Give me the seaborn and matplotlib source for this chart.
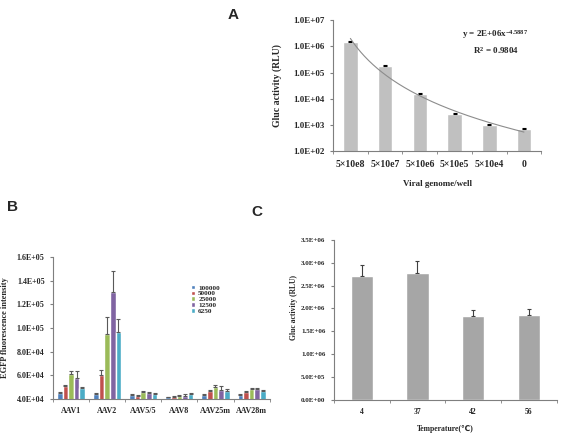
import numpy as np
import pandas as pd
import matplotlib
matplotlib.use("Agg")
import matplotlib.pyplot as plt
from matplotlib.ticker import FuncFormatter, FixedLocator
import seaborn as sns

# panel A: luciferase vs viral genomes (log scale)
a_labels = ["5×10e8", "5×10e7", "5×10e6", "5×10e5", "5×10e4", "0"]
a_values = [1.4e6, 1.8e5, 1.5e4, 2.7e3, 1.0e3, 7.0e2]
a_errors = [1.5e5, 8e3, 1.5e3, 1.0e2, 8e1, 6e1]
a_fit_coef = 2e6
a_fit_exp = -4.5887

# panel B: EGFP fluorescence by serotype and dose
b_groups = ["AAV1", "AAV2", "AAV5/5", "AAV8", "AAV25m", "AAV28m"]
b_doses = ["100000", "50000", "25000", "12500", "6250"]
b_100000 = [45000, 44000, 43000, 41400, 43500, 43600]
b_50000 = [51000, 60500, 42500, 42000, 47000, 46000]
b_25000 = [61000, 95000, 45600, 42200, 50200, 48500]
b_12500 = [58000, 130000, 45000, 42500, 48000, 48500]
b_6250 = [49000, 97000, 44000, 44000, 46500, 47000]
b_100000_err = [600, 1000, 800, 500, 800, 600]
b_50000_err = [500, 4000, 700, 600, 1000, 700]
b_25000_err = [2500, 14000, 1500, 800, 1800, 800]
b_12500_err = [5500, 18000, 1200, 1500, 3000, 800]
b_6250_err = [1200, 11000, 800, 700, 2000, 700]

# panel C: temperature stability
c_temps = ["4", "37", "42", "56"]
c_values = [2.71e6, 2.77e6, 1.84e6, 1.86e6]
c_errors = [2.5e5, 2.6e5, 1.2e5, 1.3e5]

sns.set_style("ticks")
plt.rcParams["font.family"] = ["Liberation Serif", "DejaVu Sans"]
plt.rcParams["font.weight"] = "bold"
plt.rcParams["mathtext.fontset"] = "custom"
plt.rcParams["mathtext.rm"] = "Liberation Serif:bold"
plt.rcParams["mathtext.it"] = "Liberation Serif:bold"
plt.rcParams["mathtext.bf"] = "Liberation Serif:bold"

spine_col = "#7f7f7f"


def style_axes(ax, n, fs_x, fs_y):
    sns.despine(ax=ax)
    for s in ["left", "bottom"]:
        ax.spines[s].set_color(spine_col)
        ax.spines[s].set_linewidth(0.8)
    ax.set_xlim(-0.5, n - 0.5)
    ax.xaxis.set_minor_locator(FixedLocator(np.arange(-0.5, n, 1.0)))
    ax.tick_params(axis="x", which="major", length=0, labelsize=fs_x, pad=6)
    ax.tick_params(axis="x", which="minor", length=2.5, color=spine_col)
    ax.tick_params(axis="y", length=2.5, color=spine_col, labelsize=fs_y)
    for lab in ax.get_xticklabels() + ax.get_yticklabels():
        lab.set_fontweight("bold")


def add_errors(ax, bars, errs, color):
    xs = [b.get_x() + b.get_width() / 2 for b in bars]
    ys = [b.get_height() for b in bars]
    ax.errorbar(xs, ys, yerr=[np.zeros(len(errs)), errs], fmt="none",
                ecolor=color, elinewidth=0.8, capsize=1.5, capthick=0.8)


fig = plt.figure(figsize=(5.63, 4.37), dpi=100)

# ---- panel A ----
ax_a = fig.add_axes([0.5915, 0.654, 0.37, 0.30])
df_a = pd.DataFrame({"dose": a_labels, "rlu": a_values})
ax_a.set_yscale("log")
sns.barplot(data=df_a, x="dose", y="rlu", color="#c0c0c0", width=0.42,
            saturation=1, ax=ax_a)
add_errors(ax_a, ax_a.containers[0], a_errors, "black")
xs_fit = np.linspace(1, len(a_values), 200)
ax_a.plot(xs_fit - 1, a_fit_coef * xs_fit ** a_fit_exp, color="#8c8c8c", lw=0.8)
ax_a.set_ylim(1e2, 1e7)
ax_a.yaxis.set_major_locator(FixedLocator([10.0 ** k for k in range(2, 8)]))
ax_a.yaxis.set_minor_locator(FixedLocator([]))
ax_a.yaxis.set_major_formatter(FuncFormatter(lambda v, p: f"{v:.1E}"))
style_axes(ax_a, len(a_labels), 7, 6.5)
ax_a.set_xlabel("Viral genome/well", fontsize=6.5, fontweight="bold", labelpad=8)
ax_a.set_ylabel("Gluc activity (RLU)", fontsize=7, fontweight="bold", labelpad=8)
ax_a.text(0.62, 0.87, r"y = 2E+06x$^{-4.5887}$", transform=ax_a.transAxes,
          fontsize=6.5, fontweight="bold")
ax_a.text(0.67, 0.74, r"R$^{2}$ = 0.9804", transform=ax_a.transAxes,
          fontsize=6.5, fontweight="bold")
fig.text(0.405, 0.965, "A", fontsize=11, fontweight="bold",
         family="Liberation Sans", va="center")

# ---- panel B ----
ax_b = fig.add_axes([0.094, 0.087, 0.385, 0.325])
b_series = [b_100000, b_50000, b_25000, b_12500, b_6250]
b_errs = [b_100000_err, b_50000_err, b_25000_err, b_12500_err, b_6250_err]
df_b = pd.DataFrame({
    "group": np.tile(b_groups, len(b_doses)),
    "dose": np.repeat(b_doses, len(b_groups)),
    "value": np.concatenate(b_series),
})
b_palette = ["#4f81bd", "#c0504d", "#9bbb59", "#8064a2", "#4bacc6"]
sns.barplot(data=df_b, x="group", y="value", hue="dose", hue_order=b_doses,
            palette=b_palette, saturation=1, width=0.78, ax=ax_b)
for cont, errs in zip(ax_b.containers, b_errs):
    add_errors(ax_b, cont, errs, "#595959")
ax_b.set_ylim(4e4, 1.6e5)
ax_b.yaxis.set_major_locator(FixedLocator(np.arange(4e4, 1.61e5, 2e4)))
ax_b.yaxis.set_major_formatter(FuncFormatter(lambda v, p: f"{v:.1E}"))
style_axes(ax_b, len(b_groups), 5.8, 5.8)
ax_b.set_xlabel("")
ax_b.set_ylabel("EGFP fluorescence intensity", fontsize=6, fontweight="bold",
                labelpad=6)
ax_b.legend(loc="upper left", bbox_to_anchor=(0.62, 0.83), frameon=False,
            handlelength=0.6, handleheight=0.6,
            labelspacing=0.0, handletextpad=0.4, borderpad=0,
            prop={"weight": "bold", "size": 5.2})
fig.text(0.012, 0.527, "B", fontsize=11, fontweight="bold",
         family="Liberation Sans", va="center")

# ---- panel C ----
ax_c = fig.add_axes([0.593, 0.085, 0.396, 0.366])
df_c = pd.DataFrame({"temp": c_temps, "rlu": c_values})
sns.barplot(data=df_c, x="temp", y="rlu", color="#a6a6a6", width=0.4,
            saturation=1, ax=ax_c)
add_errors(ax_c, ax_c.containers[0], c_errors, "#404040")
ax_c.set_ylim(0, 3.5e6)
ax_c.yaxis.set_major_locator(FixedLocator(np.arange(0, 3.51e6, 5e5)))
ax_c.yaxis.set_major_formatter(FuncFormatter(lambda v, p: f"{v:.1E}"))
style_axes(ax_c, len(c_temps), 5.5, 5)
ax_c.set_xlabel("Temperature(℃)", fontsize=5.5, fontweight="bold", labelpad=6)
ax_c.set_ylabel("Gluc activity (RLU)", fontsize=5.5, fontweight="bold",
                labelpad=6)
ax_c.yaxis.set_label_coords(-0.16, 0.58)
fig.text(0.447, 0.515, "C", fontsize=11, fontweight="bold",
         family="Liberation Sans", va="center")

fig.savefig("out.png", dpi=100, facecolor="white")
